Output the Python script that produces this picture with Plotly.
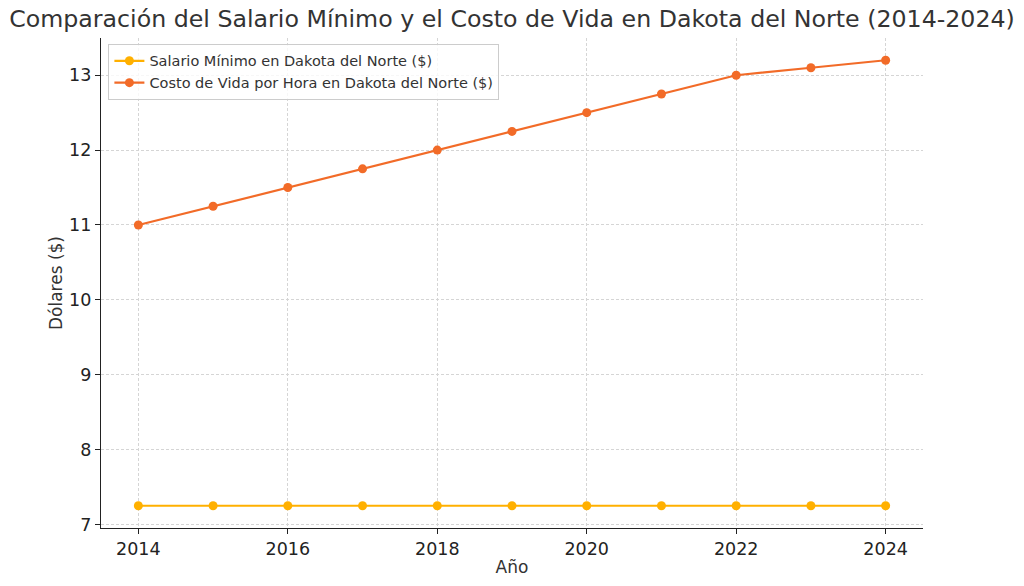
import plotly.graph_objects as go

years = list(range(2014, 2025))
min_wage = [7.25] * 11
cost_of_living = [11.0, 11.25, 11.5, 11.75, 12.0, 12.25, 12.5, 12.75, 13.0, 13.1, 13.2]
x_ticks = [2014, 2016, 2018, 2020, 2022, 2024]
y_ticks = [7, 8, 9, 10, 11, 12, 13]

fig = go.Figure()
fig.add_trace(go.Scatter(x=years, y=min_wage, mode="lines+markers",
                         name="Salario Mínimo en Dakota del Norte ($)",
                         line=dict(color="#FFB000", width=2.2),
                         marker=dict(size=9, color="#FFB000")))
fig.add_trace(go.Scatter(x=years, y=cost_of_living, mode="lines+markers",
                         name="Costo de Vida por Hora en Dakota del Norte ($)",
                         line=dict(color="#F26B28", width=2.2),
                         marker=dict(size=9, color="#F26B28")))

font = "DejaVu Sans"
fig.update_layout(
    width=1024, height=586,
    margin=dict(l=101, r=101, t=38, b=55),
    paper_bgcolor="white", plot_bgcolor="white",
    font=dict(family=font, color="#333333"),
    title=dict(text="Comparación del Salario Mínimo y el Costo de Vida en Dakota del Norte (2014-2024)",
               x=0.5, xanchor="center", y=0.982, yanchor="top",
               font=dict(size=23.7, color="#333333", family=font)),
    legend=dict(x=0.009, y=0.988, xanchor="left", yanchor="top",
                bgcolor="rgba(255,255,255,0.8)", bordercolor="#cccccc", borderwidth=1,
                font=dict(size=14.5, color="#333333", family=font), tracegroupgap=0),
    showlegend=True,
)
fig.update_xaxes(range=[2013.5, 2024.5], tickvals=x_ticks, ticktext=[str(t) for t in x_ticks],
                 showline=True, linecolor="#222222", linewidth=1.2, mirror=False,
                 ticks="outside", ticklen=5, tickcolor="#222222",
                 showgrid=True, gridcolor="#d5d5d5", griddash="3px,2px", gridwidth=1,
                 zeroline=False, tickfont=dict(size=17.5, color="#222222"),
                 title=dict(text="Año", font=dict(size=17, color="#333333"), standoff=3))
fig.update_yaxes(range=[6.9525, 13.4975], tickvals=y_ticks, ticktext=[str(t) for t in y_ticks],
                 showline=True, linecolor="#222222", linewidth=1.2, mirror=False,
                 ticks="outside", ticklen=5, tickcolor="#222222",
                 showgrid=True, gridcolor="#d5d5d5", griddash="3px,2px", gridwidth=1,
                 zeroline=False, tickfont=dict(size=17.5, color="#222222"),
                 title=dict(text="Dólares ($)", font=dict(size=17, color="#333333"), standoff=2))

fig.write_html("out.html")
